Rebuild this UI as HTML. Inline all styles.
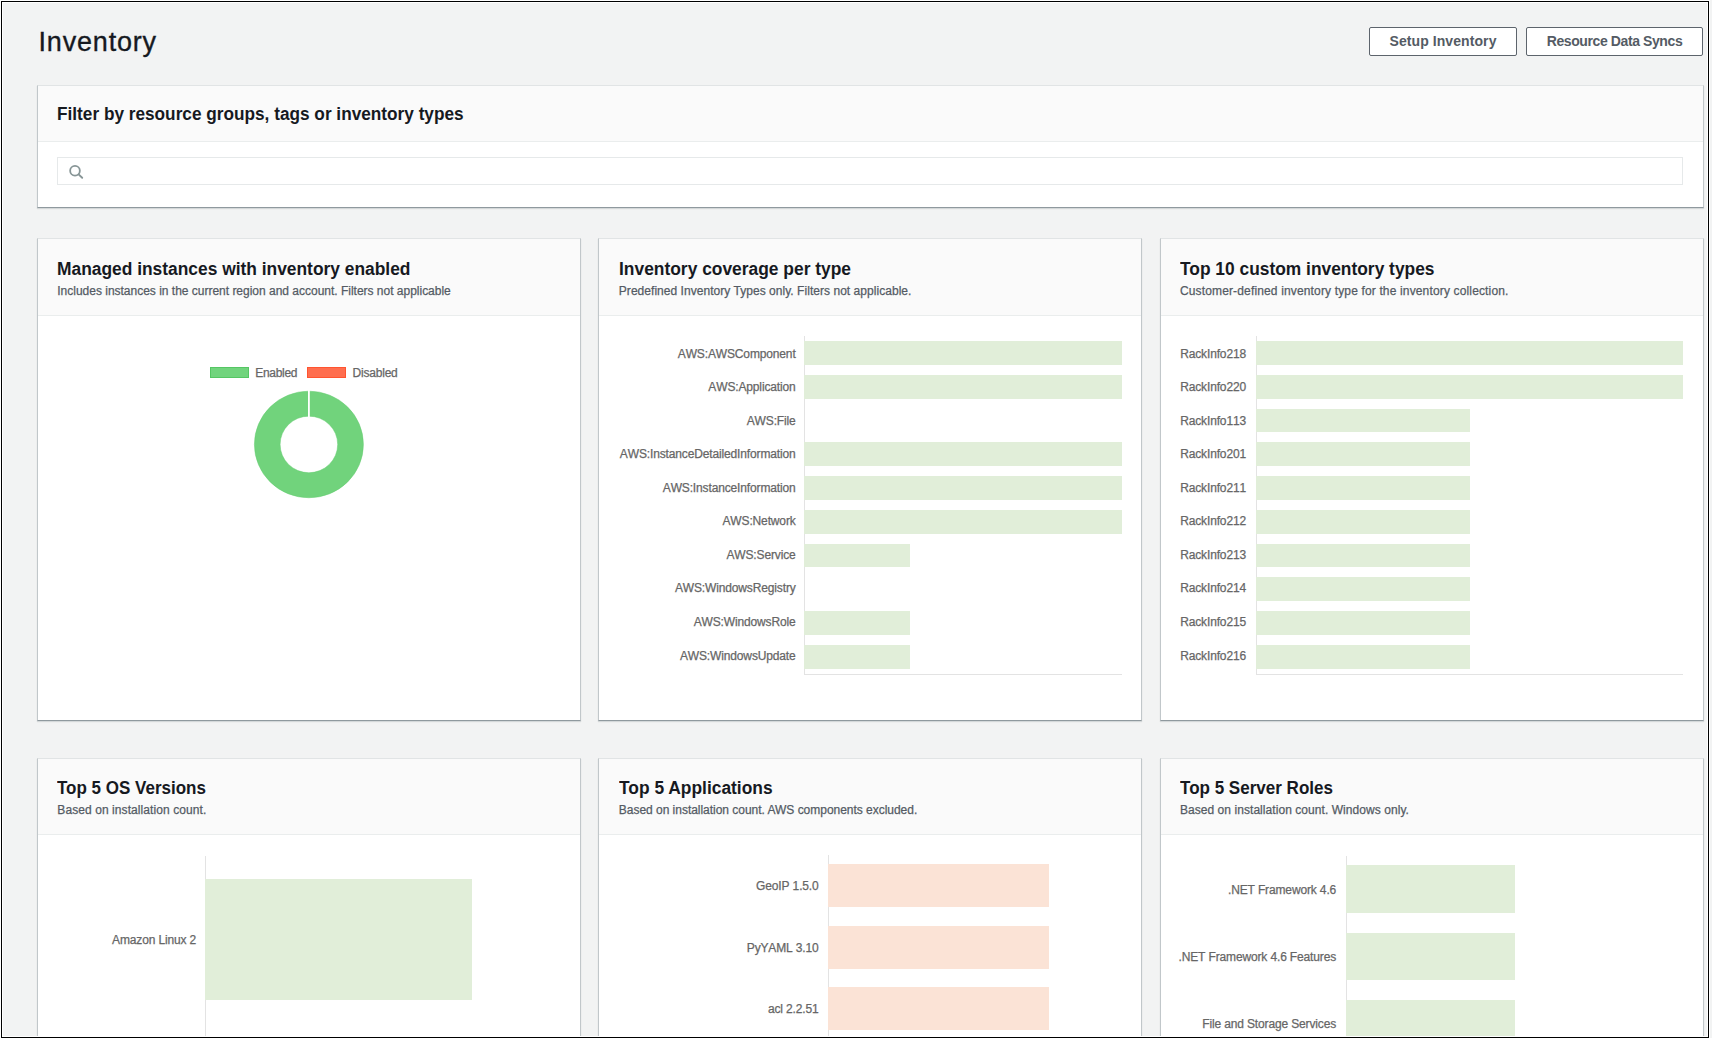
<!DOCTYPE html>
<html><head><meta charset="utf-8"><title>Inventory</title>
<style>
html,body{margin:0;padding:0;}
body{width:1712px;height:1038px;overflow:hidden;position:relative;background:#f2f3f3;font-family:"Liberation Sans",sans-serif;}
.t{position:absolute;white-space:nowrap;line-height:1;}
.b{position:absolute;}
</style></head><body>
<div class="t" style="left:38.50px;top:28.84px;font-size:27px;font-weight:400;color:#16191f;letter-spacing:0.82px;-webkit-text-stroke:0.35px #16191f;">Inventory</div>
<div class="b" style="left:1369px;top:27px;width:148px;height:29px;border:1px solid #5d646c;border-radius:2px;background:#fff;box-sizing:border-box;"></div>
<div class="t" style="left:1369px;width:148px;text-align:center;top:34.15px;font-size:14px;font-weight:700;color:#545b64;letter-spacing:0.08px">Setup Inventory</div>
<div class="b" style="left:1526px;top:27px;width:177px;height:29px;border:1px solid #5d646c;border-radius:2px;background:#fff;box-sizing:border-box;"></div>
<div class="t" style="left:1526px;width:177px;text-align:center;top:34.15px;font-size:14px;font-weight:700;color:#545b64;letter-spacing:-0.4px">Resource Data Syncs</div>
<div class="b" style="left:37px;top:85px;width:1667px;height:123px;background:#fff;border-left:1px solid #c1c7ca;border-right:1px solid #c1c7ca;border-top:1px solid #e1e4e5;border-bottom:1px solid #8f999e;box-sizing:border-box;box-shadow:0 1px 1px rgba(0,28,36,0.12);"></div>
<div class="b" style="left:38px;top:86px;width:1665px;height:55px;background:#fafafa;"></div>
<div class="b" style="left:38px;top:141px;width:1665px;height:1px;background:#eaeded;"></div>
<div class="t" style="left:56.90px;top:104.56px;font-size:18px;font-weight:700;color:#16191f;letter-spacing:0px;transform:scaleX(0.9565);transform-origin:0 0;">Filter by resource groups, tags or inventory types</div>
<div class="b" style="left:57px;top:157px;width:1626px;height:28px;border:1px solid #e6e9ea;box-sizing:border-box;background:#fff;"></div>
<svg class="b" style="left:66px;top:162px" width="22" height="22" viewBox="66 162 22 22"><circle cx="75" cy="170.7" r="4.85" fill="none" stroke="#879596" stroke-width="1.8"/><line x1="78.6" y1="174.4" x2="82.2" y2="177.8" stroke="#879596" stroke-width="1.9" stroke-linecap="round"/></svg>
<div class="b" style="left:37px;top:238px;width:544px;height:483px;background:#fff;border-left:1px solid #c1c7ca;border-right:1px solid #c1c7ca;border-top:1px solid #e1e4e5;border-bottom:1px solid #8f999e;box-sizing:border-box;box-shadow:0 1px 1px rgba(0,28,36,0.12);"></div>
<div class="b" style="left:38px;top:239px;width:542px;height:76px;background:#fafafa;"></div>
<div class="b" style="left:38px;top:315px;width:542px;height:1px;background:#eaeded;"></div>
<div class="t" style="left:57.40px;top:259.56px;font-size:18px;font-weight:700;color:#16191f;letter-spacing:0px;transform:scaleX(0.9654);transform-origin:0 0;">Managed instances with inventory enabled</div>
<div class="t" style="left:57.30px;top:284.84px;font-size:12px;font-weight:400;color:#545b64;letter-spacing:-0.01px;-webkit-text-stroke:0.25px #545b64;">Includes instances in the current region and account. Filters not applicable</div>
<div class="b" style="left:598px;top:238px;width:544px;height:483px;background:#fff;border-left:1px solid #c1c7ca;border-right:1px solid #c1c7ca;border-top:1px solid #e1e4e5;border-bottom:1px solid #8f999e;box-sizing:border-box;box-shadow:0 1px 1px rgba(0,28,36,0.12);"></div>
<div class="b" style="left:599px;top:239px;width:542px;height:76px;background:#fafafa;"></div>
<div class="b" style="left:599px;top:315px;width:542px;height:1px;background:#eaeded;"></div>
<div class="t" style="left:619.30px;top:259.56px;font-size:18px;font-weight:700;color:#16191f;letter-spacing:0px;transform:scaleX(0.9665);transform-origin:0 0;">Inventory coverage per type</div>
<div class="t" style="left:618.80px;top:284.84px;font-size:12px;font-weight:400;color:#545b64;letter-spacing:0.04px;-webkit-text-stroke:0.25px #545b64;">Predefined Inventory Types only. Filters not applicable.</div>
<div class="b" style="left:1160px;top:238px;width:544px;height:483px;background:#fff;border-left:1px solid #c1c7ca;border-right:1px solid #c1c7ca;border-top:1px solid #e1e4e5;border-bottom:1px solid #8f999e;box-sizing:border-box;box-shadow:0 1px 1px rgba(0,28,36,0.12);"></div>
<div class="b" style="left:1161px;top:239px;width:542px;height:76px;background:#fafafa;"></div>
<div class="b" style="left:1161px;top:315px;width:542px;height:1px;background:#eaeded;"></div>
<div class="t" style="left:1180.30px;top:259.56px;font-size:18px;font-weight:700;color:#16191f;letter-spacing:0px;transform:scaleX(0.965);transform-origin:0 0;">Top 10 custom inventory types</div>
<div class="t" style="left:1179.90px;top:284.84px;font-size:12px;font-weight:400;color:#545b64;letter-spacing:0.15px;-webkit-text-stroke:0.25px #545b64;">Customer-defined inventory type for the inventory collection.</div>
<div class="b" style="left:37px;top:758px;width:544px;height:303px;background:#fff;border-left:1px solid #c1c7ca;border-right:1px solid #c1c7ca;border-top:1px solid #e1e4e5;border-bottom:1px solid #8f999e;box-sizing:border-box;box-shadow:0 1px 1px rgba(0,28,36,0.12);"></div>
<div class="b" style="left:38px;top:759px;width:542px;height:75px;background:#fafafa;"></div>
<div class="b" style="left:38px;top:834px;width:542px;height:1px;background:#eaeded;"></div>
<div class="t" style="left:57.40px;top:778.86px;font-size:18px;font-weight:700;color:#16191f;letter-spacing:0px;transform:scaleX(0.944);transform-origin:0 0;">Top 5 OS Versions</div>
<div class="t" style="left:57.30px;top:803.84px;font-size:12px;font-weight:400;color:#545b64;letter-spacing:0.08px;-webkit-text-stroke:0.25px #545b64;">Based on installation count.</div>
<div class="b" style="left:598px;top:758px;width:544px;height:303px;background:#fff;border-left:1px solid #c1c7ca;border-right:1px solid #c1c7ca;border-top:1px solid #e1e4e5;border-bottom:1px solid #8f999e;box-sizing:border-box;box-shadow:0 1px 1px rgba(0,28,36,0.12);"></div>
<div class="b" style="left:599px;top:759px;width:542px;height:75px;background:#fafafa;"></div>
<div class="b" style="left:599px;top:834px;width:542px;height:1px;background:#eaeded;"></div>
<div class="t" style="left:619.30px;top:778.86px;font-size:18px;font-weight:700;color:#16191f;letter-spacing:0px;transform:scaleX(0.966);transform-origin:0 0;">Top 5 Applications</div>
<div class="t" style="left:618.80px;top:803.84px;font-size:12px;font-weight:400;color:#545b64;letter-spacing:-0.025px;-webkit-text-stroke:0.25px #545b64;">Based on installation count. AWS components excluded.</div>
<div class="b" style="left:1160px;top:758px;width:544px;height:303px;background:#fff;border-left:1px solid #c1c7ca;border-right:1px solid #c1c7ca;border-top:1px solid #e1e4e5;border-bottom:1px solid #8f999e;box-sizing:border-box;box-shadow:0 1px 1px rgba(0,28,36,0.12);"></div>
<div class="b" style="left:1161px;top:759px;width:542px;height:75px;background:#fafafa;"></div>
<div class="b" style="left:1161px;top:834px;width:542px;height:1px;background:#eaeded;"></div>
<div class="t" style="left:1180.30px;top:778.86px;font-size:18px;font-weight:700;color:#16191f;letter-spacing:0px;transform:scaleX(0.946);transform-origin:0 0;">Top 5 Server Roles</div>
<div class="t" style="left:1179.90px;top:803.84px;font-size:12px;font-weight:400;color:#545b64;letter-spacing:0.06px;-webkit-text-stroke:0.25px #545b64;">Based on installation count. Windows only.</div>
<div class="b" style="left:210px;top:367px;width:39px;height:11px;background:#71d47d;border:1px solid #55c663;box-sizing:border-box;"></div>
<div class="t" style="left:255.30px;top:366.64px;font-size:12px;font-weight:400;color:#666666;letter-spacing:-0.3px;-webkit-text-stroke:0.25px #666;">Enabled</div>
<div class="b" style="left:307px;top:367px;width:39px;height:11px;background:#ff6e4f;border:1px solid #ff5430;box-sizing:border-box;"></div>
<div class="t" style="left:352.50px;top:366.64px;font-size:12px;font-weight:400;color:#666666;letter-spacing:-0.2px;-webkit-text-stroke:0.25px #666;">Disabled</div>
<svg class="b" style="left:240px;top:380px" width="140" height="130" viewBox="240 380 140 130"><path fill-rule="evenodd" fill="#71d37c" stroke="#64cd70" stroke-width="0.5" d="M254.39999999999998,444.45 a54.5,53.3 0 1,0 109.0,0 a54.5,53.3 0 1,0 -109.0,0 Z M280.09999999999997,444.45 a28.8,28.3 0 1,0 57.6,0 a28.8,28.3 0 1,0 -57.6,0 Z"/><rect x="308.0" y="388" width="1.8" height="30" fill="#fff"/></svg>
<div class="b" style="left:804px;top:336.1px;width:1px;height:337.5px;background:#e3e3e3;"></div>
<div class="b" style="left:804px;top:673.6px;width:318px;height:1px;background:#e3e3e3;"></div>
<div class="b" style="left:804px;top:341.16px;width:318px;height:23.62px;background:#e1eed9;"></div>
<div class="t" style="right:916.40px;text-align:right;top:347.84px;font-size:12px;font-weight:400;color:#666666;letter-spacing:-0.14px;font-kerning:none;-webkit-text-stroke:0.25px #666;">AWS:AWSComponent</div>
<div class="b" style="left:804px;top:374.91px;width:318px;height:23.62px;background:#e1eed9;"></div>
<div class="t" style="right:916.40px;text-align:right;top:381.36px;font-size:12px;font-weight:400;color:#666666;letter-spacing:-0.14px;font-kerning:none;-webkit-text-stroke:0.25px #666;">AWS:Application</div>
<div class="t" style="right:916.40px;text-align:right;top:414.88px;font-size:12px;font-weight:400;color:#666666;letter-spacing:-0.14px;font-kerning:none;-webkit-text-stroke:0.25px #666;">AWS:File</div>
<div class="b" style="left:804px;top:442.41px;width:318px;height:23.62px;background:#e1eed9;"></div>
<div class="t" style="right:916.40px;text-align:right;top:448.40px;font-size:12px;font-weight:400;color:#666666;letter-spacing:-0.14px;font-kerning:none;-webkit-text-stroke:0.25px #666;">AWS:InstanceDetailedInformation</div>
<div class="b" style="left:804px;top:476.16px;width:318px;height:23.62px;background:#e1eed9;"></div>
<div class="t" style="right:916.40px;text-align:right;top:481.92px;font-size:12px;font-weight:400;color:#666666;letter-spacing:-0.14px;font-kerning:none;-webkit-text-stroke:0.25px #666;">AWS:InstanceInformation</div>
<div class="b" style="left:804px;top:509.91px;width:318px;height:23.62px;background:#e1eed9;"></div>
<div class="t" style="right:916.40px;text-align:right;top:515.44px;font-size:12px;font-weight:400;color:#666666;letter-spacing:-0.14px;font-kerning:none;-webkit-text-stroke:0.25px #666;">AWS:Network</div>
<div class="b" style="left:804px;top:543.66px;width:106.0px;height:23.62px;background:#e1eed9;"></div>
<div class="t" style="right:916.40px;text-align:right;top:548.96px;font-size:12px;font-weight:400;color:#666666;letter-spacing:-0.14px;font-kerning:none;-webkit-text-stroke:0.25px #666;">AWS:Service</div>
<div class="t" style="right:916.40px;text-align:right;top:582.48px;font-size:12px;font-weight:400;color:#666666;letter-spacing:-0.14px;font-kerning:none;-webkit-text-stroke:0.25px #666;">AWS:WindowsRegistry</div>
<div class="b" style="left:804px;top:611.16px;width:106.0px;height:23.62px;background:#e1eed9;"></div>
<div class="t" style="right:916.40px;text-align:right;top:616.00px;font-size:12px;font-weight:400;color:#666666;letter-spacing:-0.14px;font-kerning:none;-webkit-text-stroke:0.25px #666;">AWS:WindowsRole</div>
<div class="b" style="left:804px;top:644.91px;width:106.0px;height:23.62px;background:#e1eed9;"></div>
<div class="t" style="right:916.40px;text-align:right;top:649.52px;font-size:12px;font-weight:400;color:#666666;letter-spacing:-0.14px;font-kerning:none;-webkit-text-stroke:0.25px #666;">AWS:WindowsUpdate</div>
<div class="b" style="left:1256px;top:336.1px;width:1px;height:337.5px;background:#e3e3e3;"></div>
<div class="b" style="left:1256px;top:673.6px;width:427px;height:1px;background:#e3e3e3;"></div>
<div class="b" style="left:1256px;top:341.16px;width:427px;height:23.62px;background:#e1eed9;"></div>
<div class="t" style="right:466.00px;text-align:right;top:347.84px;font-size:12px;font-weight:400;color:#666666;letter-spacing:-0.14px;font-kerning:none;-webkit-text-stroke:0.25px #666;">RackInfo218</div>
<div class="b" style="left:1256px;top:374.91px;width:427px;height:23.62px;background:#e1eed9;"></div>
<div class="t" style="right:466.00px;text-align:right;top:381.36px;font-size:12px;font-weight:400;color:#666666;letter-spacing:-0.14px;font-kerning:none;-webkit-text-stroke:0.25px #666;">RackInfo220</div>
<div class="b" style="left:1256px;top:408.66px;width:213.5px;height:23.62px;background:#e1eed9;"></div>
<div class="t" style="right:466.00px;text-align:right;top:414.88px;font-size:12px;font-weight:400;color:#666666;letter-spacing:-0.14px;font-kerning:none;-webkit-text-stroke:0.25px #666;">RackInfo113</div>
<div class="b" style="left:1256px;top:442.41px;width:213.5px;height:23.62px;background:#e1eed9;"></div>
<div class="t" style="right:466.00px;text-align:right;top:448.40px;font-size:12px;font-weight:400;color:#666666;letter-spacing:-0.14px;font-kerning:none;-webkit-text-stroke:0.25px #666;">RackInfo201</div>
<div class="b" style="left:1256px;top:476.16px;width:213.5px;height:23.62px;background:#e1eed9;"></div>
<div class="t" style="right:466.00px;text-align:right;top:481.92px;font-size:12px;font-weight:400;color:#666666;letter-spacing:-0.14px;font-kerning:none;-webkit-text-stroke:0.25px #666;">RackInfo211</div>
<div class="b" style="left:1256px;top:509.91px;width:213.5px;height:23.62px;background:#e1eed9;"></div>
<div class="t" style="right:466.00px;text-align:right;top:515.44px;font-size:12px;font-weight:400;color:#666666;letter-spacing:-0.14px;font-kerning:none;-webkit-text-stroke:0.25px #666;">RackInfo212</div>
<div class="b" style="left:1256px;top:543.66px;width:213.5px;height:23.62px;background:#e1eed9;"></div>
<div class="t" style="right:466.00px;text-align:right;top:548.96px;font-size:12px;font-weight:400;color:#666666;letter-spacing:-0.14px;font-kerning:none;-webkit-text-stroke:0.25px #666;">RackInfo213</div>
<div class="b" style="left:1256px;top:577.41px;width:213.5px;height:23.62px;background:#e1eed9;"></div>
<div class="t" style="right:466.00px;text-align:right;top:582.48px;font-size:12px;font-weight:400;color:#666666;letter-spacing:-0.14px;font-kerning:none;-webkit-text-stroke:0.25px #666;">RackInfo214</div>
<div class="b" style="left:1256px;top:611.16px;width:213.5px;height:23.62px;background:#e1eed9;"></div>
<div class="t" style="right:466.00px;text-align:right;top:616.00px;font-size:12px;font-weight:400;color:#666666;letter-spacing:-0.14px;font-kerning:none;-webkit-text-stroke:0.25px #666;">RackInfo215</div>
<div class="b" style="left:1256px;top:644.91px;width:213.5px;height:23.62px;background:#e1eed9;"></div>
<div class="t" style="right:466.00px;text-align:right;top:649.52px;font-size:12px;font-weight:400;color:#666666;letter-spacing:-0.14px;font-kerning:none;-webkit-text-stroke:0.25px #666;">RackInfo216</div>
<div class="b" style="left:205px;top:855.5px;width:1px;height:184.5px;background:#e3e3e3;"></div>
<div class="b" style="left:205px;top:879.02px;width:267px;height:120.96px;background:#e1eed9;"></div>
<div class="t" style="right:1515.90px;text-align:right;top:933.94px;font-size:12px;font-weight:400;color:#666666;letter-spacing:-0.14px;font-kerning:none;-webkit-text-stroke:0.25px #666;">Amazon Linux 2</div>
<div class="b" style="left:828px;top:855.0px;width:1px;height:185.0px;background:#e3e3e3;"></div>
<div class="b" style="left:828px;top:864.01px;width:221px;height:43.48px;background:#fbe3d6;"></div>
<div class="t" style="right:893.40px;text-align:right;top:880.19px;font-size:12px;font-weight:400;color:#666666;letter-spacing:-0.14px;font-kerning:none;-webkit-text-stroke:0.25px #666;">GeoIP 1.5.0</div>
<div class="b" style="left:828px;top:925.51px;width:221px;height:43.48px;background:#fbe3d6;"></div>
<div class="t" style="right:893.40px;text-align:right;top:941.69px;font-size:12px;font-weight:400;color:#666666;letter-spacing:-0.14px;font-kerning:none;-webkit-text-stroke:0.25px #666;">PyYAML 3.10</div>
<div class="b" style="left:828px;top:987.01px;width:221px;height:43.48px;background:#fbe3d6;"></div>
<div class="t" style="right:893.40px;text-align:right;top:1003.19px;font-size:12px;font-weight:400;color:#666666;letter-spacing:-0.14px;font-kerning:none;-webkit-text-stroke:0.25px #666;">acl 2.2.51</div>
<div class="b" style="left:828px;top:1048.51px;width:221px;height:43.48px;background:#fbe3d6;"></div>
<div class="t" style="right:893.40px;text-align:right;top:1064.69px;font-size:12px;font-weight:400;color:#666666;letter-spacing:-0.14px;font-kerning:none;-webkit-text-stroke:0.25px #666;">attr 2.4.46</div>
<div class="b" style="left:828px;top:1110.01px;width:221px;height:43.48px;background:#fbe3d6;"></div>
<div class="t" style="right:893.40px;text-align:right;top:1126.19px;font-size:12px;font-weight:400;color:#666666;letter-spacing:-0.14px;font-kerning:none;-webkit-text-stroke:0.25px #666;">audit 2.8.1</div>
<div class="b" style="left:1346px;top:855.5px;width:1px;height:184.5px;background:#e3e3e3;"></div>
<div class="b" style="left:1346px;top:865.41px;width:169px;height:47.38px;background:#e1eed9;"></div>
<div class="t" style="right:375.90px;text-align:right;top:883.54px;font-size:12px;font-weight:400;color:#666666;letter-spacing:-0.14px;font-kerning:none;-webkit-text-stroke:0.25px #666;">.NET Framework 4.6</div>
<div class="b" style="left:1346px;top:932.61px;width:169px;height:47.38px;background:#e1eed9;"></div>
<div class="t" style="right:375.90px;text-align:right;top:950.74px;font-size:12px;font-weight:400;color:#666666;letter-spacing:-0.14px;font-kerning:none;-webkit-text-stroke:0.25px #666;">.NET Framework 4.6 Features</div>
<div class="b" style="left:1346px;top:999.81px;width:169px;height:47.38px;background:#e1eed9;"></div>
<div class="t" style="right:375.90px;text-align:right;top:1017.94px;font-size:12px;font-weight:400;color:#666666;letter-spacing:-0.14px;font-kerning:none;-webkit-text-stroke:0.25px #666;">File and Storage Services</div>
<div class="b" style="left:1346px;top:1067.01px;width:169px;height:47.38px;background:#e1eed9;"></div>
<div class="t" style="right:375.90px;text-align:right;top:1085.14px;font-size:12px;font-weight:400;color:#666666;letter-spacing:-0.14px;font-kerning:none;-webkit-text-stroke:0.25px #666;">File Server</div>
<div class="b" style="left:1346px;top:1134.21px;width:169px;height:47.38px;background:#e1eed9;"></div>
<div class="t" style="right:375.90px;text-align:right;top:1152.34px;font-size:12px;font-weight:400;color:#666666;letter-spacing:-0.14px;font-kerning:none;-webkit-text-stroke:0.25px #666;">Storage Services</div>
<div class="b" style="left:0px;top:0px;width:1712px;height:1px;background:#fff;z-index:10;"></div>
<div class="b" style="left:0px;top:0px;width:1px;height:1038px;background:#fff;z-index:10;"></div>
<div class="b" style="left:1px;top:1px;width:1708px;height:1px;background:#000;z-index:10;"></div>
<div class="b" style="left:1px;top:1px;width:1px;height:1037px;background:#000;z-index:10;"></div>
<div class="b" style="left:1708px;top:1px;width:1px;height:1037px;background:#000;z-index:10;"></div>
<div class="b" style="left:1px;top:1037px;width:1708px;height:1px;background:#000;z-index:10;"></div>
<div class="b" style="left:2px;top:2px;width:1706px;height:1px;background:#fff;z-index:10;"></div>
<div class="b" style="left:2px;top:2px;width:1px;height:1035px;background:#fff;z-index:10;"></div>
<div class="b" style="left:1707px;top:2px;width:1px;height:1035px;background:#fff;z-index:10;"></div>
<div class="b" style="left:2px;top:1036px;width:1706px;height:1px;background:#fff;z-index:10;"></div>
<div class="b" style="left:1709px;top:0px;width:1px;height:1038px;background:#fff;z-index:10;"></div>
<div class="b" style="left:1710px;top:0px;width:2px;height:1038px;background:#f2f3f3;z-index:10;"></div>
</body></html>
